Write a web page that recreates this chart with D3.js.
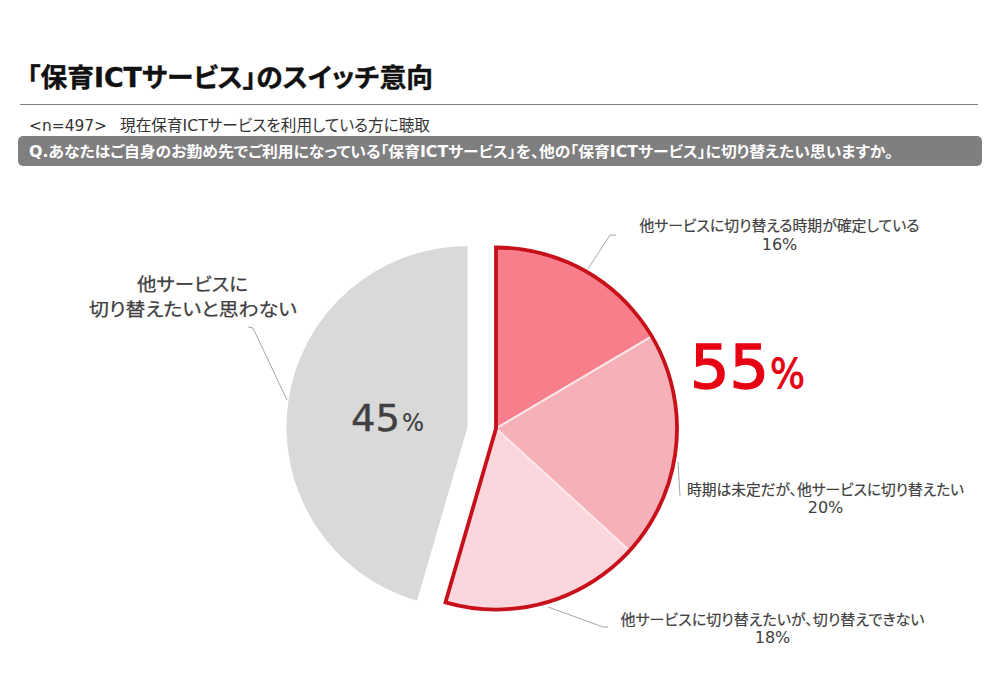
<!DOCTYPE html>
<html>
<head>
<meta charset="utf-8">
<script src="https://cdnjs.cloudflare.com/ajax/libs/d3/7.8.5/d3.min.js"></script>
<style>
html, body { margin: 0; padding: 0; background: #fff; }
svg { display: block; }
text { font-family: "DejaVu Sans", "Noto Sans CJK JP", sans-serif; font-feature-settings: "palt"; }
</style>
</head>
<body>
<div class="container"></div>
<script>
var svgWidth = 1000;
var svgHeight = 699;

// slice shares, clockwise from 12 o'clock
var categories = ["他サービスに切り替える時期が確定している", "時期は未定だが、他サービスに切り替えたい", "他サービスに切り替えたいが、切り替えできない", "他サービスに切り替えたいと思わない"];
var sliceValues = [16.5, 20.3, 17.7, 45.5];
var printedValues = [16, 20, 18, 45];
var switchTotal = 55;
var sliceColors = ["#F67F8B", "#F6B0B7", "#FBD6DC", "#D9D9D9"];

var svg = d3.select(".container")
    .append("svg")
    .attr("width", svgWidth)
    .attr("height", svgHeight);

function fitText(x, y, width, size, fill, str) {
    return svg.append("text")
        .attr("x", x).attr("y", y)
        .attr("textLength", width)
        .attr("lengthAdjust", "spacingAndGlyphs")
        .attr("font-size", size)
        .attr("fill", fill)
        .text(str);
}

// header
fitText(27, 87, 406, 26, "#111", "「保育ICTサービス」のスイッチ意向")
    .attr("font-weight", 700)
    .attr("stroke", "#111").attr("stroke-width", 0.4);

svg.append("line")
    .attr("x1", 20).attr("x2", 978)
    .attr("y1", 104.5).attr("y2", 104.5)
    .attr("stroke", "#808080");

fitText(29, 131, 78, 15.5, "#333", "<n=497>");
fitText(120, 131, 310, 15.5, "#333", "現在保育ICTサービスを利用している方に聴取");

svg.append("rect")
    .attr("x", 18).attr("y", 136)
    .attr("width", 964).attr("height", 30)
    .attr("rx", 5)
    .attr("fill", "#7F7F7F");

fitText(29, 157, 864, 15, "#fff", "Q.あなたはご自身のお勤め先でご利用になっている「保育ICTサービス」を、他の「保育ICTサービス」に切り替えたい思いますか。")
    .attr("font-weight", 700);

// pie
var radius = 181;
var pie = d3.pie().sort(null).value(d => d);
var arcs = pie(sliceValues);
var arc = d3.arc().innerRadius(0).outerRadius(radius);

var redGroup = svg.append("g").attr("transform", "translate(496, 428.5)");
var greyGroup = svg.append("g").attr("transform", "translate(467.5, 427)");

greyGroup.append("path")
    .attr("d", arc(arcs[3]))
    .attr("fill", sliceColors[3]);

redGroup.selectAll(".slice")
    .data(arcs.slice(0, 3))
    .enter()
    .append("path")
    .classed("slice", true)
    .attr("d", arc)
    .attr("fill", (d, i) => sliceColors[i])
    .attr("stroke", "#fbe6e8")
    .attr("stroke-width", 2);

// red outline around the three switching slices
redGroup.append("path")
    .attr("d", arc({ startAngle: arcs[0].startAngle, endAngle: arcs[2].endAngle }))
    .attr("fill", "none")
    .attr("stroke", "#C8101A")
    .attr("stroke-width", 3.8)
    .attr("stroke-linejoin", "miter");

// leader lines
var leaders = [
    [[588, 269], [610, 235], [616, 235]],
    [[678, 462], [680, 496]],
    [[548, 607], [603, 627], [608, 627]],
    [[287, 400], [253, 328], [248, 327]]
];
var lineGen = d3.line();
svg.selectAll(".leader")
    .data(leaders)
    .enter()
    .append("path")
    .classed("leader", true)
    .attr("d", lineGen)
    .attr("fill", "none")
    .attr("stroke", "#A6A6A6")
    .attr("stroke-width", 1);

// labels
var labelPos = [
    { x: 779.5, y: 231, py: 250, w: 280 },
    { x: 825.5, y: 495, py: 513, w: 277 },
    { x: 772.5, y: 625, py: 643, w: 304 }
];
labelPos.forEach((p, i) => {
    svg.append("text")
        .attr("x", p.x).attr("y", p.y)
        .attr("text-anchor", "middle")
        .attr("textLength", p.w)
        .attr("lengthAdjust", "spacingAndGlyphs")
        .attr("font-size", 14.5).attr("fill", "#404040")
        .attr("stroke", "#404040").attr("stroke-width", 0.2)
        .text(categories[i]);
    svg.append("text")
        .attr("x", p.x).attr("y", p.py)
        .attr("text-anchor", "middle")
        .attr("font-size", 16).attr("fill", "#404040")
        .text(printedValues[i] + "%");
});

fitText(137, 291, 111, 18.5, "#404040", "他サービスに")
    .attr("stroke", "#404040").attr("stroke-width", 0.25);
fitText(89, 316, 208, 18.5, "#404040", "切り替えたいと思わない")
    .attr("stroke", "#404040").attr("stroke-width", 0.25);

// big percentages
fitText(351, 431, 49, 38, "#404040", printedValues[3])
    .attr("stroke", "#404040").attr("stroke-width", 0.4);
fitText(402, 431, 22, 24, "#404040", "%")
    .attr("stroke", "#404040").attr("stroke-width", 0.2);

fitText(690, 388, 79, 60, "#E60012", switchTotal)
    .attr("stroke", "#E60012").attr("stroke-width", 1.4);
fitText(770, 388, 35, 40, "#E60012", "%")
    .attr("stroke", "#E60012").attr("stroke-width", 0.9);
</script>
</body>
</html>
